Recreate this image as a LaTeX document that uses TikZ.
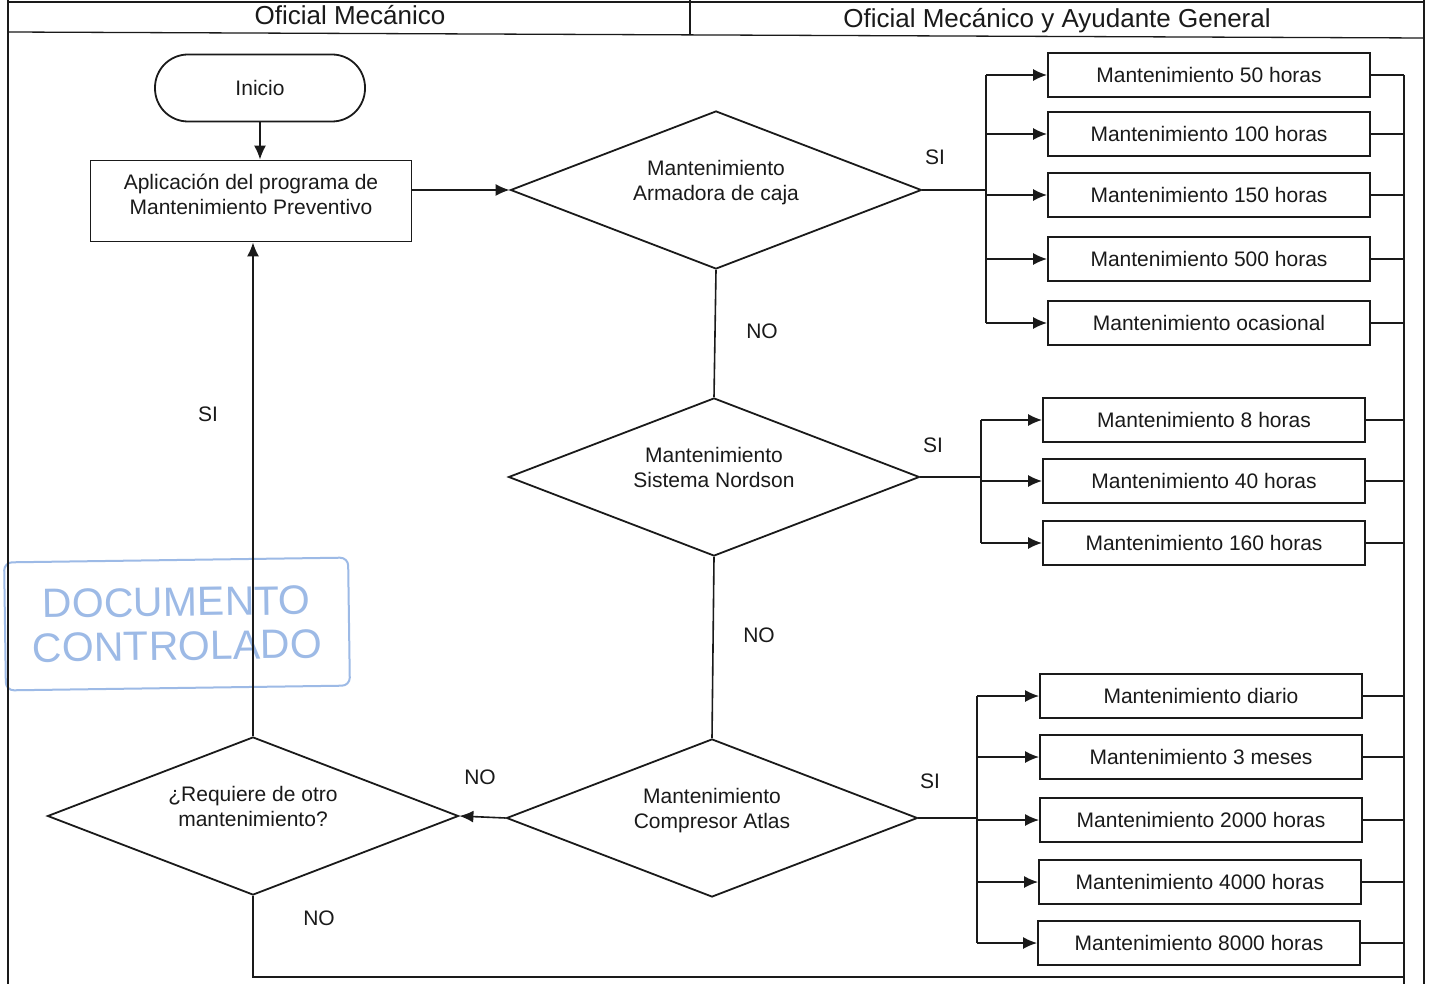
\documentclass[tikz,border=0pt]{standalone}
\usepackage{fontspec}
\setmainfont{Liberation Sans}
\usetikzlibrary{shapes.geometric,arrows.meta}
\definecolor{ink}{HTML}{1A1A1A}
\definecolor{stampblue}{HTML}{9DBAE6}
\begin{document}
\begin{tikzpicture}[x=1pt,y=-1pt,
  every node/.style={font=\fontsize{21}{25}\selectfont, text=ink},
  line/.style={draw=ink, line width=1.6pt},
  arr/.style={line, -{Latex[length=14pt,width=12pt]}},
  box/.style={draw=ink, line width=1.8pt, minimum width=322pt, minimum height=44pt, inner sep=0pt},
  procbox/.style={draw=ink, line width=1.8pt, minimum width=321pt, minimum height=81pt, inner sep=0pt, align=center, text depth=14pt},
  term/.style={draw=ink, line width=1.8pt, rounded corners=33pt, minimum width=210pt, minimum height=67pt, inner sep=0pt},
  dec/.style={diamond, aspect=2.6, draw=ink, line width=1.8pt, minimum width=411pt, minimum height=158pt, inner sep=0pt, align=center, text depth=20pt},
  lbl/.style={inner sep=0pt},
  head/.style={font=\fontsize{26}{30}\selectfont, inner sep=0pt},
  stamp/.style={draw=stampblue, line width=2pt, rounded corners=8pt, text=stampblue, font=\fontsize{41}{44}\selectfont, align=center, minimum width=344pt, minimum height=128pt, inner sep=0pt}
]
\useasboundingbox (0,0) rectangle (1432,984);
\fill[white] (0,0) rectangle (1432,984);

% stamp (behind)
\node[stamp, rotate=0.8] (stamp) at (177,624) {DOCUMENTO\\CONTROLADO};

% swimlane frame
\draw[line, line width=1.3pt] (8,2) -- (1424,2);
\draw[line, line width=1.3pt] (8,0) -- (8,984);
\draw[line, line width=1.3pt] (1424,0) -- (1424,984);
\draw[line, line width=1.3pt] (8,32) -- (1424,38);
\draw[line, line width=1.3pt] (690,0) -- (690,35);
\node[head] (h1) at (350,15) {Oficial Mecánico};
\node[head] (h2) at (1057,21) {Oficial Mecánico y Ayudante General};

% main flow
\node[term] (inicio) at (260,88) {Inicio};
\node[procbox] (aplic) at (251,201) {Aplicación del programa de\\Mantenimiento Preventivo};
\node[dec] (d1) at (716,190) {Mantenimiento\\Armadora de caja};
\node[dec] (d2) at (714,477) {Mantenimiento\\Sistema Nordson};
\node[dec] (d3) at (712,818) {Mantenimiento\\Compresor Atlas};
\node[dec] (d4) at (253,816) {¿Requiere de otro\\mantenimiento?};

% group 1
\node[box] (a50) at (1209,75) {Mantenimiento 50 horas};
\node[box] (a100) at (1209,134) {Mantenimiento 100 horas};
\node[box] (a150) at (1209,195) {Mantenimiento 150 horas};
\node[box] (a500) at (1209,259) {Mantenimiento 500 horas};
\node[box] (aoc) at (1209,323) {Mantenimiento ocasional};
% group 2
\node[box] (b8) at (1204,420) {Mantenimiento 8 horas};
\node[box] (b40) at (1204,481) {Mantenimiento 40 horas};
\node[box] (b160) at (1204,543) {Mantenimiento 160 horas};
% group 3
\node[box] (cdia) at (1201,696) {Mantenimiento diario};
\node[box] (c3m) at (1201,757) {Mantenimiento 3 meses};
\node[box] (c2000) at (1201,820) {Mantenimiento 2000 horas};
\node[box] (c4000) at (1200,882) {Mantenimiento 4000 horas};
\node[box] (c8000) at (1199,943) {Mantenimiento 8000 horas};

% labels
\node[lbl] (si1) at (935,157) {SI};
\node[lbl] (no1) at (762,331) {NO};
\node[lbl] (si2) at (933,445) {SI};
\node[lbl] (no2) at (759,635) {NO};
\node[lbl] (si3) at (930,781) {SI};
\node[lbl] (no3) at (480,777) {NO};
\node[lbl] (si4) at (208,414) {SI};
\node[lbl] (no4) at (319,918) {NO};

% coordinates for buses
\coordinate (g1) at (986,0);
\coordinate (g2) at (981,0);
\coordinate (g3) at (977,0);
\coordinate (bus) at (1404,0);
\coordinate (bottom) at (0,977);
\coordinate (pageend) at (0,984);

% connectors main
\draw[arr] (inicio.south) -- (inicio.south |- aplic.north);
\draw[arr] (d1.west -| aplic.east) -- (d1.west);
\draw[line] (d1.south) -- (d2.north);
\draw[line] (d2.south) -- (d3.north);
\draw[arr] (d3.west) -- (d4.east);
\draw[arr] (d4.north) -- (d4.north |- aplic.south);
\draw[line] (d4.south) -- (d4.south |- bottom) -- (bus |- bottom);

% group 1 connectors
\draw[line] (d1.east) -- (d1.east -| g1);
\draw[line] (g1 |- a50) -- (g1 |- aoc);
\foreach \n in {a50,a100,a150,a500,aoc} \draw[arr] (g1 |- \n) -- (\n.west);
% group 2
\draw[line] (d2.east) -- (d2.east -| g2);
\draw[line] (g2 |- b8) -- (g2 |- b160);
\foreach \n in {b8,b40,b160} \draw[arr] (g2 |- \n) -- (\n.west);
% group 3
\draw[line] (d3.east) -- (d3.east -| g3);
\draw[line] (g3 |- cdia) -- (g3 |- c8000);
\foreach \n in {cdia,c3m,c2000,c4000,c8000} \draw[arr] (g3 |- \n) -- (\n.west);

% right collector bus
\draw[line] (bus |- a50) -- (bus |- pageend);
\foreach \n in {a50,a100,a150,a500,aoc,b8,b40,b160,cdia,c3m,c2000,c4000,c8000} \draw[line] (\n.east) -- (bus |- \n);
\end{tikzpicture}
\end{document}
